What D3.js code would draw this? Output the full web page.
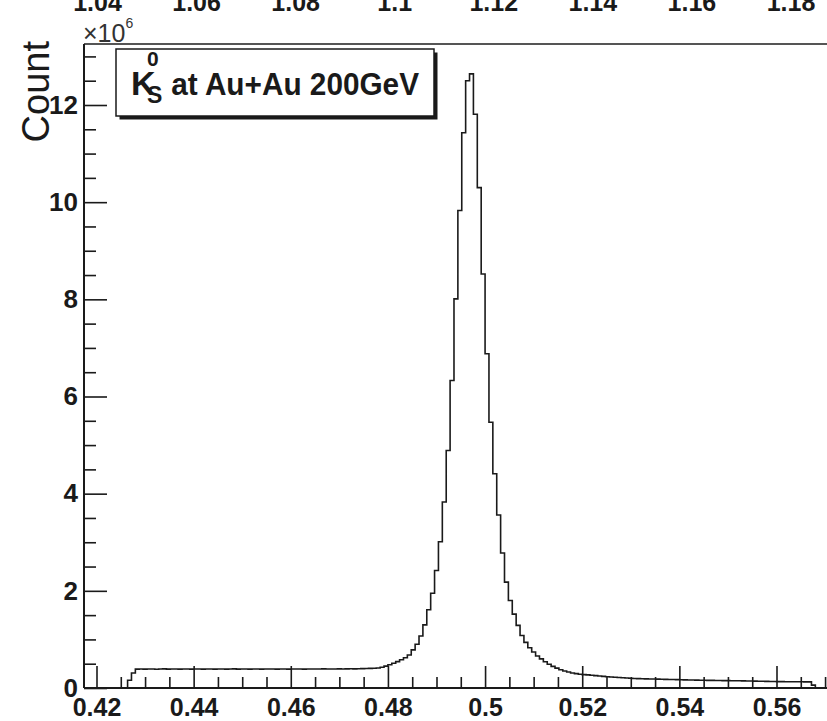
<!DOCTYPE html>
<html>
<head>
<meta charset="utf-8">
<script src="https://cdn.jsdelivr.net/npm/d3@7"></script>
<style>
  body { margin: 0; background: #fff; }
  svg { display: block; }
  text { font-family: "Liberation Sans", Arial, Helvetica, sans-serif; }
</style>
</head>
<body>
<script>
// K0s invariant-mass histogram: fixed-width bins, first filled bin edge below
const binLow = 0.4264;
const binWidth = 0.0008;
const counts = [
  160000, 310000,
  388000, 391000, 389000, 392000, 390000, 387000, 391000, 393000, 389000, 390000,
  392000, 388000, 390000, 391000, 389000, 392000, 390000, 388000, 391000, 390000,
  389000, 392000, 391000, 388000, 390000, 393000, 389000, 391000, 390000, 388000,
  392000, 390000, 389000, 391000, 390000, 392000, 388000, 390000, 391000, 389000,
  392000, 390000, 391000, 389000, 390000, 392000, 391000, 390000, 393000, 391000,
  392000, 390000, 394000, 392000, 393000, 395000, 394000, 396000,
  398000, 402000, 403000, 406000, 412000, 428000, 450000, 478000, 510000, 542000,
  580000, 622000, 680000, 785000, 900000, 1070000, 1300000, 1610000, 1950000, 2420000,
  3010000, 3830000, 4890000, 6330000, 8010000, 9830000, 11430000, 12500000, 12640000, 11810000,
  10300000, 8520000, 6880000, 5470000, 4410000, 3560000, 2780000, 2180000, 1800000, 1520000,
  1290000, 1080000, 940000, 830000, 740000, 660000, 600000, 540000, 490000, 445000,
  410000, 375000, 350000, 330000, 310000, 295000, 282000, 275000, 270000, 262000,
  255000, 248000, 240000, 232000, 226000, 221000, 216000, 211000, 206000, 201000,
  197000, 193000, 190000, 188000, 186000, 184000, 182000, 180000, 178000, 176000,
  174000, 172000, 170000, 168000, 166000, 164000, 162000, 160000, 158000, 157000,
  156000, 155000, 154000, 152000, 151000, 150000, 149000, 148000, 146000, 145000,
  144000, 142000, 140000, 138000, 136000, 134000, 133000, 132000, 131000, 130000,
  130000, 129000, 128000, 128000, 127000, 126000, 60000
];

// Axis ticks
const xMajorTicks = [0.42, 0.44, 0.46, 0.48, 0.50, 0.52, 0.54, 0.56];
const xMinorStep = 0.005;
const yMajorTicks = [0, 2e6, 4e6, 6e6, 8e6, 10e6, 12e6];
const yMinorStep = 0.5e6;
const yScaleExponent = 6;

// Labels of the neighbouring pad's axis, visible along the top edge
const upperAxisTicks = [1.04, 1.06, 1.08, 1.10, 1.12, 1.14, 1.16, 1.18];

const legendMain = "K";
const legendSup = "0";
const legendSub = "S";
const legendRest = " at Au+Au 200GeV";
const yTitle = "Count";

const W = 827, H = 721;
const frame = { left: 84, top: 44, right: 840, bottom: 688 };
const ink = "#1a1a1a";

const svg = d3.select("body").append("svg")
  .attr("width", W).attr("height", H)
  .attr("viewBox", `0 0 ${W} ${H}`);

const x = d3.scaleLinear().domain([0.42, 0.56]).range([96.5, 776.5]);
const y = d3.scaleLinear().domain([0, 12e6]).range([frame.bottom, 105]);
const xTop = d3.scaleLinear().domain([1.04, 1.18]).range([97.5, 791]);

const fmt = d => d3.format("")(+d.toFixed(2));

// ---- upper neighbour axis labels (cut by the page edge)
svg.append("g").selectAll("text")
  .data(upperAxisTicks).join("text")
  .attr("x", d => xTop(d)).attr("y", 11)
  .attr("text-anchor", "middle")
  .attr("font-size", 25).attr("font-weight", "bold").attr("fill", ink)
  .text(fmt);

// ---- minor / major ticks
const xMinor = d3.range(Math.ceil(x.invert(frame.left) / xMinorStep), Math.floor(x.invert(W) / xMinorStep) + 1)
  .map(k => +(k * xMinorStep).toFixed(4))
  .filter(v => !xMajorTicks.some(m => Math.abs(m - v) < 1e-9));
const yMinor = d3.range(0, Math.floor(y.invert(frame.top) / yMinorStep) + 1)
  .map(k => k * yMinorStep)
  .filter(v => !yMajorTicks.some(m => Math.abs(m - v) < 1));

const gx = svg.append("g").attr("transform", `translate(0,${frame.bottom})`);
gx.call(d3.axisBottom(x).tickValues(xMinor).tickSize(-11).tickFormat("").tickSizeOuter(0));
gx.append("g").call(d3.axisBottom(x).tickValues(xMajorTicks).tickSize(-22).tickPadding(10).tickSizeOuter(0)
  .tickFormat(fmt));
gx.selectAll(".domain").remove();
gx.selectAll("line").attr("stroke", ink).attr("stroke-width", 1.6);
gx.selectAll("text").attr("font-size", 25).attr("font-weight", "bold").attr("fill", ink)
  .attr("font-family", "'Liberation Sans', Arial, sans-serif");

const gy = svg.append("g").attr("transform", `translate(${frame.left},0)`);
gy.call(d3.axisLeft(y).tickValues(yMinor).tickSize(-12).tickFormat("").tickSizeOuter(0));
gy.append("g").call(d3.axisLeft(y).tickValues(yMajorTicks).tickSize(-23).tickPadding(6).tickSizeOuter(0)
  .tickFormat(d => d3.format("")(d / Math.pow(10, yScaleExponent))));
gy.selectAll(".domain").remove();
gy.selectAll("line").attr("stroke", ink).attr("stroke-width", 1.6);
gy.selectAll("text").attr("font-size", 26).attr("font-weight", "bold").attr("fill", ink)
  .attr("font-family", "'Liberation Sans', Arial, sans-serif");

// ---- histogram outline
const pts = [{ v: binLow, c: 0 }];
counts.forEach((c, i) => pts.push({ v: binLow + i * binWidth, c }));
const binHigh = binLow + counts.length * binWidth;
pts.push({ v: binHigh, c: counts[counts.length - 1] });
pts.push({ v: binHigh, c: 0 });

svg.append("path")
  .attr("d", d3.line().x(d => x(d.v)).y(d => y(d.c)).curve(d3.curveStepAfter)(pts))
  .attr("fill", "none").attr("stroke", ink).attr("stroke-width", 1.6);

// ---- frame
svg.append("line").attr("x1", frame.left).attr("x2", W).attr("y1", frame.top).attr("y2", frame.top)
  .attr("stroke", "#555").attr("stroke-width", 2.2);
svg.append("line").attr("x1", frame.left).attr("x2", W).attr("y1", frame.bottom).attr("y2", frame.bottom)
  .attr("stroke", ink).attr("stroke-width", 2);
svg.append("line").attr("x1", frame.left).attr("x2", frame.left).attr("y1", frame.top).attr("y2", frame.bottom)
  .attr("stroke", ink).attr("stroke-width", 2);

// ---- exponent label
const expo = svg.append("text").attr("x", 83).attr("y", 42).attr("fill", "#333");
expo.append("tspan").attr("font-size", 25).text("\u00d710");
expo.append("tspan").attr("font-size", 14).attr("dy", -14).text(String(yScaleExponent));

// ---- y title
svg.append("text")
  .attr("transform", "translate(49,41) rotate(-90)")
  .attr("text-anchor", "end")
  .attr("font-size", 38).attr("fill", ink)
  .text(yTitle);

// ---- legend box with shadow
const lg = { x: 116, y: 49, w: 318, h: 67, s: 3.5 };
svg.append("rect").attr("x", lg.x + lg.s).attr("y", lg.y + lg.s).attr("width", lg.w).attr("height", lg.h)
  .attr("fill", ink);
svg.append("rect").attr("x", lg.x).attr("y", lg.y).attr("width", lg.w).attr("height", lg.h)
  .attr("fill", "#fff").attr("stroke", ink).attr("stroke-width", 1.5);
svg.append("text").attr("x", 131).attr("y", 95).attr("font-size", 34).attr("font-weight", "bold")
  .attr("fill", ink).text(legendMain);
svg.append("text").attr("x", 147).attr("y", 66).attr("font-size", 21).attr("font-weight", "bold")
  .attr("fill", ink).text(legendSup);
svg.append("text").attr("x", 147).attr("y", 103).attr("font-size", 23).attr("font-weight", "bold")
  .attr("fill", ink).text(legendSub);
svg.append("text").attr("x", 163).attr("y", 95).attr("font-size", 32).attr("font-weight", "bold")
  .attr("fill", ink)
  .attr("textLength", 256).attr("lengthAdjust", "spacingAndGlyphs")
  .attr("xml:space", "preserve").style("white-space", "pre")
  .text(legendRest);
</script>
</body>
</html>
